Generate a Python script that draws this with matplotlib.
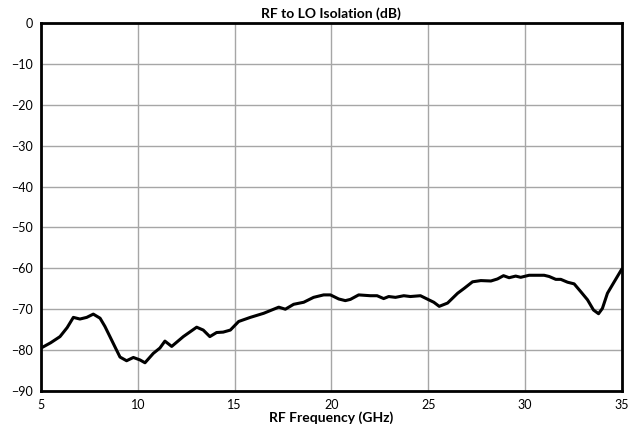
import matplotlib
matplotlib.use("Agg")
import matplotlib.pyplot as plt

# values
freq_ghz = [5.0, 5.5, 5.98, 6.35, 6.67, 7.01, 7.36, 7.7, 8.05, 8.3, 8.56, 8.85, 9.08,
            9.42, 9.77, 10.11, 10.37, 10.8, 11.14, 11.4, 11.75, 12.35, 13.04, 13.38,
            13.72, 14.07, 14.41, 14.78, 15.21, 15.81, 16.5, 17.28, 17.62, 18.05, 18.57,
            19.08, 19.6, 19.95, 20.38, 20.72, 20.98, 21.41, 22.01, 22.36, 22.7, 22.96,
            23.31, 23.74, 24.08, 24.6, 25.03, 25.29, 25.57, 26.0, 26.52, 26.86, 27.29,
            27.72, 28.24, 28.58, 28.89, 29.18, 29.52, 29.78, 30.21, 30.99, 31.25, 31.59,
            31.85, 32.2, 32.54, 32.88, 33.23, 33.54, 33.8, 34.0, 34.26, 34.61, 35.0]
isolation_db = [-79.5, -78.2, -76.7, -74.5, -72.0, -72.4, -72.0, -71.2, -72.2, -74.2,
                -76.7, -79.5, -81.7, -82.6, -81.8, -82.4, -83.1, -80.8, -79.5, -77.8,
                -79.1, -76.7, -74.4, -75.1, -76.7, -75.7, -75.6, -75.1, -73.0, -72.0,
                -71.0, -69.5, -70.0, -68.8, -68.3, -67.1, -66.5, -66.5, -67.5, -67.9,
                -67.6, -66.5, -66.7, -66.7, -67.4, -66.9, -67.1, -66.7, -66.9, -66.7,
                -67.7, -68.3, -69.3, -68.5, -66.1, -64.9, -63.3, -63.0, -63.1, -62.6,
                -61.8, -62.3, -61.9, -62.2, -61.7, -61.7, -62.0, -62.7, -62.7, -63.4,
                -63.8, -65.7, -67.7, -70.2, -71.1, -69.8, -66.1, -63.3, -60.2]

x_ticks = [5, 10, 15, 20, 25, 30, 35]
y_ticks = [0, -10, -20, -30, -40, -50, -60, -70, -80, -90]

plt.rcParams['font.family'] = ['Lato', 'DejaVu Sans']

fig = plt.figure(figsize=(6.41, 4.33), dpi=100)
ax = fig.add_axes([0.064, 0.097, 0.906, 0.850])

ax.plot(freq_ghz, isolation_db, color="black", linewidth=2.2,
        solid_joinstyle="round", solid_capstyle="round", zorder=3)

ax.set_xlim(5, 35)
ax.set_ylim(-90, 0)
ax.set_xticks(x_ticks)
ax.set_yticks(y_ticks)
ax.grid(True, color="#a6a6a6", linewidth=1.0)
ax.tick_params(length=0, labelsize=9, pad=6)

for side in ax.spines.values():
    side.set_linewidth(2.0)
    side.set_color("black")

ax.set_title("RF to LO Isolation (dB)", fontsize=10, fontweight="bold", pad=4)
ax.set_xlabel("RF Frequency (GHz)", fontsize=10, fontweight="bold", labelpad=0)

fig.savefig("out.png", dpi=100)
